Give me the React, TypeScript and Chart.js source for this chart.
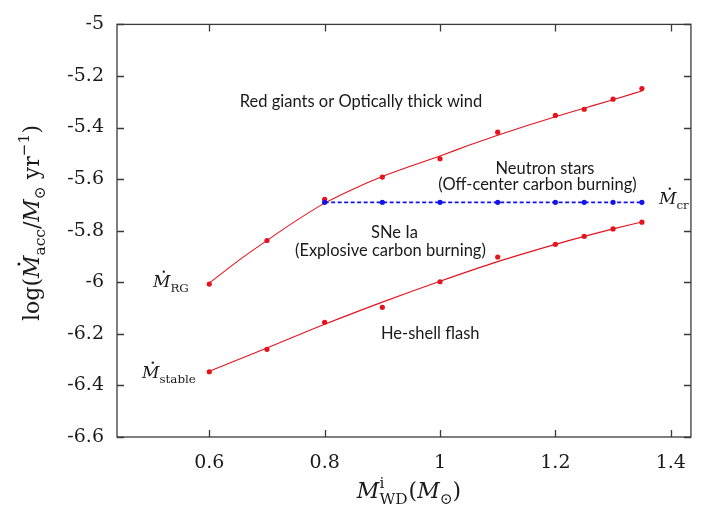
import React, { useEffect, useRef } from "react";
import { Chart, registerables } from "chart.js";

Chart.register(...registerables);

// measured models (points)
const massPts = [0.6, 0.7, 0.8, 0.9, 1.0, 1.1, 1.2, 1.25, 1.3, 1.35];
const rateRG = [-6.007, -5.838, -5.678, -5.592, -5.521, -5.418, -5.353, -5.329, -5.29, -5.249];
const rateStable = [-6.347, -6.26, -6.155, -6.097, -5.998, -5.902, -5.853, -5.822, -5.793, -5.767];
const massCr = [0.8, 0.9, 1.0, 1.1, 1.2, 1.25, 1.3, 1.35];
const rateCr = [-5.69, -5.69, -5.69, -5.69, -5.69, -5.69, -5.69, -5.69];

// fitted curves
const massFitRG = [0.6, 0.65, 0.7, 0.75, 0.8, 0.85, 0.9, 0.95, 1.0, 1.05, 1.1, 1.15, 1.2, 1.25, 1.3, 1.35];
const fitRG = [-6.003, -5.917, -5.838, -5.762, -5.693, -5.638, -5.59, -5.549, -5.51, -5.469, -5.43, -5.393, -5.358, -5.325, -5.292, -5.258];
const massFitStable = [0.6, 0.7, 0.8, 0.9, 1.0, 1.1, 1.2, 1.25, 1.3, 1.35];
const fitStable = [-6.345, -6.255, -6.163, -6.077, -5.996, -5.92, -5.853, -5.822, -5.793, -5.766];

const xTicks = [0.6, 0.8, 1.0, 1.2, 1.4];
const yTicks = [-5, -5.2, -5.4, -5.6, -5.8, -6, -6.2, -6.4, -6.6];

const regionLabels = [
  { text: "Red giants or Optically thick wind", x: 0.863, y: -5.3 },
  { text: "Neutron stars", x: 1.182, y: -5.56 },
  { text: "(Off-center carbon burning)", x: 1.169, y: -5.623 },
  { text: "SNe Ia", x: 0.921, y: -5.806 },
  { text: "(Explosive carbon burning)", x: 0.914, y: -5.876 },
  { text: "He-shell flash", x: 0.983, y: -6.201 },
];

const RED = "#e3141e";
const BLUE = "#1414e6";
const SERIF = "'DejaVu Serif', serif";
const SANS = "Lato, 'Open Sans', sans-serif";

type Seg = { t: string; it?: boolean; pos?: "sub" | "sup"; dot?: boolean; stack?: [string, string] };

function drawRich(ctx: CanvasRenderingContext2D, segs: Seg[], x: number, y: number, size: number, align: "left" | "center") {
  const font = (s: number, it?: boolean) => `${it ? "italic " : ""}${s}px ${SERIF}`;
  const small = size * 0.7;
  const widths = segs.map((s) => {
    if (s.stack) {
      ctx.font = font(small);
      return Math.max(ctx.measureText(s.stack[0]).width, ctx.measureText(s.stack[1]).width) + 1;
    }
    ctx.font = font(s.pos ? small : size, s.it);
    return ctx.measureText(s.t).width;
  });
  const total = widths.reduce((a, b) => a + b, 0);
  let cx = align === "center" ? x - total / 2 : x;
  ctx.textBaseline = "alphabetic";
  ctx.textAlign = "left";
  const base = y + size * 0.35;
  segs.forEach((s, i) => {
    if (s.stack) {
      ctx.font = font(small);
      ctx.fillText(s.stack[0], cx, base - size * 0.45);
      ctx.fillText(s.stack[1], cx, base + size * 0.3);
    } else {
      ctx.font = font(s.pos ? small : size, s.it);
      const dy = s.pos === "sub" ? size * 0.3 : s.pos === "sup" ? -size * 0.42 : 0;
      ctx.fillText(s.t, cx, base + dy);
      if (s.dot) {
        ctx.beginPath();
        ctx.arc(cx + widths[i] * 0.62, base - size * 0.9, size * 0.07, 0, Math.PI * 2);
        ctx.fill();
      }
    }
    cx += widths[i];
  });
}

const framePlugin = {
  id: "frameTicksText",
  afterDraw(chart: any) {
    const { ctx, chartArea: a, scales } = chart;
    const xs = scales.x;
    const ys = scales.y;
    ctx.save();
    ctx.strokeStyle = "#3a3a3a";
    ctx.lineWidth = 1.3;
    ctx.strokeRect(a.left, a.top, a.right - a.left, a.bottom - a.top);
    ctx.beginPath();
    const L = 7;
    yTicks.forEach((v) => {
      const p = Math.round(ys.getPixelForValue(v)) + 0.5;
      ctx.moveTo(a.left, p);
      ctx.lineTo(a.left + L, p);
      ctx.moveTo(a.right, p);
      ctx.lineTo(a.right - L, p);
    });
    xTicks.forEach((v) => {
      const p = Math.round(xs.getPixelForValue(v)) + 0.5;
      ctx.moveTo(p, a.bottom);
      ctx.lineTo(p, a.bottom - L);
      ctx.moveTo(p, a.top);
      ctx.lineTo(p, a.top + L);
    });
    ctx.stroke();

    ctx.fillStyle = "#1a1a1a";
    ctx.font = `16.5px ${SANS}`;
    ctx.textAlign = "center";
    ctx.textBaseline = "middle";
    regionLabels.forEach((r) => {
      ctx.fillText(r.text, xs.getPixelForValue(r.x), ys.getPixelForValue(r.y));
    });

    drawRich(ctx, [{ t: "M", it: true, dot: true }, { t: "RG", pos: "sub" }], 153, 281, 17, "left");
    drawRich(ctx, [{ t: "M", it: true, dot: true }, { t: "stable", pos: "sub" }], 142, 372, 17, "left");
    drawRich(ctx, [{ t: "M", it: true, dot: true }, { t: "cr", pos: "sub" }], 659, 198, 17, "left");

    drawRich(
      ctx,
      [
        { t: "M", it: true },
        { t: "", stack: ["i", "WD"] },
        { t: "(" },
        { t: "M", it: true },
        { t: "\u2299", pos: "sub" },
        { t: ")" },
      ],
      409,
      490,
      22,
      "center"
    );

    ctx.save();
    ctx.translate(31, 223);
    ctx.rotate(-Math.PI / 2);
    drawRich(
      ctx,
      [
        { t: "log(" },
        { t: "M", it: true, dot: true },
        { t: "acc", pos: "sub" },
        { t: "/" },
        { t: "M", it: true },
        { t: "\u2299", pos: "sub" },
        { t: " yr" },
        { t: "\u22121", pos: "sup" },
        { t: ")" },
      ],
      0,
      0,
      22,
      "center"
    );
    ctx.restore();
    ctx.restore();
  },
};

export default function App() {
  const ref = useRef<HTMLCanvasElement | null>(null);
  useEffect(() => {
    if (!ref.current) return;
    const pointSet = (xs: number[], ys: number[], color: string) => ({
      data: xs.map((x, i) => ({ x, y: ys[i] })),
      showLine: false,
      borderColor: color,
      backgroundColor: color,
      pointRadius: 2.6,
      pointBorderWidth: 0,
    });
    const fitSet = (xs: number[], ys: number[]) => ({
      data: xs.map((x, i) => ({ x, y: ys[i] })),
      showLine: true,
      borderColor: RED,
      backgroundColor: RED,
      borderWidth: 1.1,
      cubicInterpolationMode: "monotone",
      pointRadius: 0,
    });
    const chart = new Chart(ref.current, {
      type: "scatter",
      data: {
        datasets: [
          {
            data: massCr.map((x, i) => ({ x, y: rateCr[i] })),
            showLine: true,
            borderColor: BLUE,
            backgroundColor: BLUE,
            borderWidth: 1.6,
            borderDash: [4, 2.5],
            pointRadius: 2.6,
            pointBorderWidth: 0,
          },
          pointSet(massPts, rateRG, RED),
          pointSet(massPts, rateStable, RED),
          fitSet(massFitRG, fitRG),
          fitSet(massFitStable, fitStable),
        ],
      },
      options: {
        animation: false,
        responsive: true,
        maintainAspectRatio: false,
        layout: { padding: { top: 20, right: 3, left: 0, bottom: 0 } },
        plugins: { legend: { display: false }, tooltip: { enabled: false } },
        scales: {
          x: {
            type: "linear",
            min: 0.44,
            max: 1.435,
            grid: { display: false, drawTicks: false },
            border: { display: false },
            afterBuildTicks: (s: any) => {
              s.ticks = xTicks.map((v) => ({ value: v }));
            },
            afterFit: (s: any) => {
              s.height = 76;
            },
            ticks: {
              padding: 15,
              color: "#1a1a1a",
              font: { family: SERIF, size: 19 },
              callback: (v: any) => String(Math.round(Number(v) * 10) / 10),
            },
          },
          y: {
            type: "linear",
            min: -6.6,
            max: -5,
            grid: { display: false, drawTicks: false },
            border: { display: false },
            afterBuildTicks: (s: any) => {
              s.ticks = yTicks.map((v) => ({ value: v }));
            },
            afterFit: (s: any) => {
              s.width = 117;
            },
            ticks: {
              padding: 13,
              color: "#1a1a1a",
              font: { family: SERIF, size: 19 },
              callback: (v: any) => String(Math.round(Number(v) * 10) / 10),
            },
          },
        },
      },
      plugins: [framePlugin],
    } as any);
    return () => chart.destroy();
  }, []);
  return (
    <div style={{ position: "fixed", left: 0, top: 0, width: 701, height: 513, background: "#fff" }}>
      <canvas ref={ref} />
    </div>
  );
}
